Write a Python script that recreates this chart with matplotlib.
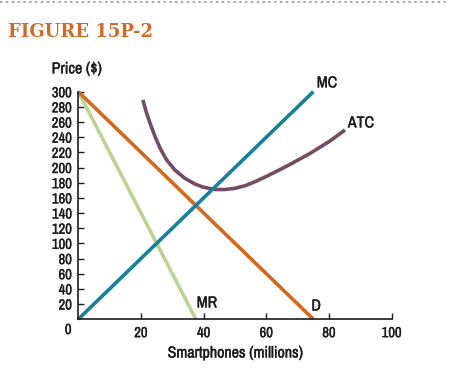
import matplotlib.pyplot as plt
from matplotlib.lines import Line2D
from matplotlib import font_manager
import matplotlib.patheffects as pe

# data
q_mc = [0, 75]
p_mc = [0, 300]
q_d = [0, 75]
p_d = [300, 0]
q_mr = [0, 37.5]
p_mr = [300, 0]
q_atc = [20.6, 21.8, 22.9, 24.5, 26.1, 28.2, 30.8, 34.0, 37.2, 39.9, 43.6, 46.8, 50.0,
         53.2, 56.4, 59.6, 62.8, 67.5, 73.9, 80.3, 85.1]
p_atc = [289.1, 271.5, 258.3, 240.7, 225.4, 209.9, 196.8, 185.8, 178.3, 174.0, 171.0, 171.0, 172.6,
         176.0, 181.3, 187.5, 194.0, 204.0, 218.5, 235.0, 249.5]
xticks = [20, 40, 60, 80, 100]
yticks = list(range(20, 301, 20))

names = sorted({f.name for f in font_manager.fontManager.ttflist})
narrow = [n for n in names if 'Narrow' in n or 'Condensed' in n]
plt.rcParams['font.family'] = narrow[:1] + ['DejaVu Sans']
plt.rcParams['font.stretch'] = 'condensed'
plt.rcParams['font.weight'] = 'bold'

ink = '#1c1c1c'
# the narrow face has no bold file here, so thicken it a little
bold = [pe.withStroke(linewidth=0.25, foreground=ink)]

fig = plt.figure(figsize=(4.68, 3.87), dpi=100)
ax = fig.add_axes([0.1673, 0.1752, 0.6697, 0.5879])

c_mc = '#17809a'
c_d = '#d2691f'
c_mr = '#bcd395'
c_atc = '#734b65'
lw = 2.6
ax.plot(q_mr, p_mr, color=c_mr, lw=lw, solid_capstyle='butt', clip_on=False)
ax.plot(q_d, p_d, color=c_d, lw=lw, solid_capstyle='butt', clip_on=False)
ax.plot(q_atc, p_atc, color=c_atc, lw=lw, solid_capstyle='butt', solid_joinstyle='round', clip_on=False)
ax.plot(q_mc, p_mc, color=c_mc, lw=lw, solid_capstyle='butt', clip_on=False)

ax.set_xlim(0, 100)
ax.set_ylim(0, 300)
for s in ['top', 'right']:
    ax.spines[s].set_visible(False)
for s in ['left', 'bottom']:
    ax.spines[s].set_linewidth(1.2)
    ax.spines[s].set_color(ink)
ax.set_xticks(xticks)
ax.set_yticks(yticks)
ax.tick_params(direction='in', length=4, width=1, colors=ink, labelsize=10.5)
ax.tick_params(axis='x', pad=5)
ax.tick_params(axis='y', pad=4.5)
for lab in ax.get_xticklabels() + ax.get_yticklabels():
    lab.set_path_effects(bold)

kw = dict(fontsize=11.5, color=ink, path_effects=bold)
ax.text(-3.2, -5, '0', ha='center', va='top', fontsize=10.5, color=ink, path_effects=bold)
ax.text(-8.5, 330, 'Price ($)', ha='left', va='center', clip_on=False, **kw)
ax.text(50.1, -44.6, 'Smartphones (millions)', ha='center', va='center', clip_on=False, **kw)

ax.text(76.1, 311.6, 'MC', ha='left', va='center', clip_on=False, **kw)
ax.text(86.0, 258.8, 'ATC', ha='left', va='center', **kw)
ax.text(37.8, 21.4, 'MR', ha='left', va='center', **kw)
ax.text(74.4, 17.4, 'D', ha='left', va='center', **kw)

fig.text(8 / 468, 1 - 32 / 387, 'FIGURE 15P-2', ha='left', va='center', fontsize=13,
         fontweight='bold', color='#d06a2a', family=['DejaVu Serif'], stretch='normal')

fig.add_artist(Line2D([0, 446 / 468], [1 - 1.5 / 387] * 2, transform=fig.transFigure,
                      color='#999999', lw=1.2, ls=(0, (1.5, 2))))

fig.savefig('out.png', dpi=100)
